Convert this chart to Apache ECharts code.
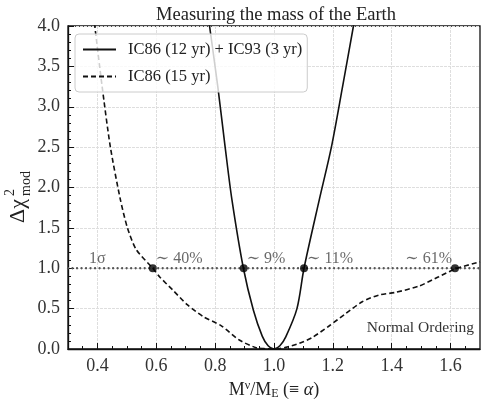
<!DOCTYPE html>
<html>
<head>
<meta charset="utf-8">
<script src="https://cdn.jsdelivr.net/npm/echarts@6/dist/echarts.min.js"></script>
<style>html,body{margin:0;padding:0;background:#fff;}#c{width:489px;height:400px;}</style>
</head>
<body>
<div id="c"></div>
<script>
// ---- data ----
const solidAlpha = [0.770, 0.781, 0.809, 0.834, 0.857, 0.896, 0.930, 0.960, 0.980, 1.000, 1.020, 1.040, 1.078, 1.102, 1.154, 1.195, 1.233, 1.270, 1.285];
const solidChi   = [4.30, 4.00, 3.25, 2.50, 1.85, 1.00, 0.48, 0.16, 0.04, 0.00, 0.04, 0.15, 0.50, 1.00, 1.85, 2.50, 3.25, 4.00, 4.30];
const dashAlpha = [0.380, 0.391, 0.416, 0.444, 0.478, 0.502, 0.532, 0.588, 0.611, 0.656, 0.705, 0.760, 0.820, 0.882, 0.939, 0.970, 1.000, 1.040, 1.086, 1.131, 1.187, 1.244, 1.300, 1.357, 1.414, 1.493, 1.560, 1.615, 1.700];
const dashChi   = [4.33, 4.00, 3.25, 2.50, 1.85, 1.50, 1.23, 1.00, 0.895, 0.73, 0.55, 0.40, 0.29, 0.111, 0.016, 0.003, 0.00, 0.02, 0.07, 0.145, 0.285, 0.44, 0.586, 0.669, 0.702, 0.78, 0.895, 0.99, 1.08];
const crossAlpha = [0.588, 0.897, 1.102, 1.615];
const crossChi = [1, 1, 1, 1];
const crossLabels = ['∼ 40%', '∼ 9%', '∼ 11%', '∼ 61%'];
const sigmaLevel = 1;
const sigmaLabel = '1σ';
const sigmaLabelAlpha = 0.4;
const xMajorTicks = [0.4, 0.6, 0.8, 1.0, 1.2, 1.4, 1.6];
const xMinorTicks = [0.35, 0.45, 0.5, 0.55, 0.65, 0.7, 0.75, 0.85, 0.9, 0.95, 1.05, 1.1, 1.15, 1.25, 1.3, 1.35, 1.45, 1.5, 1.55, 1.65];
const xRange = [0.3, 1.7];
const yRange = [0, 4];
const seriesNames = ['IC86 (12 yr) + IC93 (3 yr)', 'IC86 (15 yr)'];

const FF = '"Liberation Serif", "DejaVu Serif", serif';
const zip = (a, b) => a.map((v, i) => [v, b[i]]);

const chart = echarts.init(document.getElementById('c'));
chart.setOption({
  animation: false,
  backgroundColor: '#fff',
  title: {
    text: 'Measuring the mass of the Earth',
    left: 271, textAlign: 'center', top: 1,
    textStyle: { fontFamily: FF, fontSize: 18.5, fontWeight: 'normal', color: '#222' }
  },
  legend: {
    left: 75, top: 34, orient: 'vertical',
    padding: [7, 5, 7, 7],
    itemWidth: 33, itemHeight: 14, itemGap: 10,
    backgroundColor: 'rgba(255,255,255,0.8)',
    borderColor: '#ccc', borderWidth: 1, borderRadius: 4,
    data: seriesNames,
    itemStyle: { opacity: 0 },
    textStyle: { fontFamily: FF, fontSize: 16.5, color: '#222', padding: [0, 0, 0, 7], lineHeight: 14 }
  },
  grid: { left: 68, right: 9, top: 26, bottom: 51, outerBoundsMode: 'none', containLabel: false, show: true, borderColor: '#111', borderWidth: 1.3, backgroundColor: 'transparent' },
  xAxis: [{
    type: 'value', min: xRange[0], max: xRange[1],
    axisLine: { show: true, lineStyle: { color: '#111', width: 1.3 } },
    axisTick: { show: true, inside: true, length: 6, customValues: xMajorTicks, lineStyle: { color: '#111', width: 1 } },
    axisLabel: { customValues: xMajorTicks, margin: 8, fontFamily: FF, fontSize: 18, color: '#333', formatter: v => v.toFixed(1) },
    splitLine: { show: true, lineStyle: { color: '#dedede', width: 1, type: [3, 1] } },
    name: '{m|M}{sup|ν}{m|/M}{sub|E}{m| (≡ }{it|α}{m|)}',
    nameLocation: 'middle', nameGap: 25,
    nameTextStyle: {
      lineHeight: 20,
      rich: {
        m: { fontFamily: FF, fontSize: 18, color: '#222', lineHeight: 20, verticalAlign: 'middle' },
        it: { fontFamily: FF, fontSize: 18, color: '#222', fontStyle: 'italic', lineHeight: 20, verticalAlign: 'middle' },
        sup: { fontFamily: FF, fontSize: 12, color: '#222', lineHeight: 12, verticalAlign: 'top' },
        sub: { fontFamily: FF, fontSize: 12, color: '#222', lineHeight: 12, verticalAlign: 'bottom' }
      }
    }
  }, {
    type: 'value', min: xRange[0], max: xRange[1], position: 'bottom', gridIndex: 0, offset: 0,
    axisLine: { show: true, lineStyle: { color: 'rgba(0,0,0,0)' } },
    axisTick: { show: true, inside: true, length: 3, customValues: xMinorTicks, lineStyle: { color: '#111', width: 1 } },
    axisLabel: { show: false, customValues: xMinorTicks },
    splitLine: { show: false }
  }],
  yAxis: {
    type: 'value', min: yRange[0], max: yRange[1], interval: 0.5,
    axisLine: { show: true, lineStyle: { color: '#111', width: 1.3 } },
    axisTick: { show: true, inside: true, length: 6, lineStyle: { color: '#111', width: 1 } },
    minorTick: { show: true, splitNumber: 5, length: 3, lineStyle: { color: '#111', width: 1 } },
    axisLabel: { margin: 8, fontFamily: FF, fontSize: 18, color: '#333', formatter: v => v.toFixed(1) },
    splitLine: { show: true, lineStyle: { color: '#dedede', width: 1, type: [3, 1] } }
  },
  graphic: [
    {
      type: 'group', x: 18, y: 193, rotation: Math.PI / 2,
      children: [
        { type: 'text', x: -30, y: 0, style: { text: 'Δχ', fontFamily: FF, fontSize: 22, fill: '#222', align: 'left', verticalAlign: 'middle' } },
        { type: 'text', x: -3, y: -8, style: { text: '2', fontFamily: FF, fontSize: 14, fill: '#222', align: 'left', verticalAlign: 'middle' } },
        { type: 'text', x: -3, y: 8, style: { text: 'mod', fontFamily: FF, fontSize: 14, fill: '#222', align: 'left', verticalAlign: 'middle' } }
      ]
    },
    { type: 'text', x: 474, y: 328, style: { text: 'Normal Ordering', fontFamily: FF, fontSize: 15.5, fill: '#333', align: 'right', verticalAlign: 'middle' } }
  ],
  series: [
    {
      name: 'sigma', type: 'line', symbol: 'none', z: 1, silent: true, xAxisIndex: 1,
      data: [[xRange[0], sigmaLevel], [xRange[1], sigmaLevel]],
      lineStyle: { color: '#555', width: 2.3, type: [0.01, 4.5], cap: 'round' }
    },
    {
      name: seriesNames[0], type: 'line', symbol: 'none', smooth: 0.3, clip: true, z: 3,
      data: zip(solidAlpha, solidChi),
      lineStyle: { color: '#111', width: 1.6 }, itemStyle: { color: '#111' }
    },
    {
      name: seriesNames[1], type: 'line', symbol: 'none', smooth: 0.25, clip: true, z: 3,
      data: zip(dashAlpha, dashChi),
      lineStyle: { color: '#111', width: 1.6, type: [5, 3] }, itemStyle: { color: '#111' }
    },
    {
      name: 'cross', type: 'scatter', symbolSize: 8, z: 5,
      itemStyle: { color: '#000' },
      data: crossAlpha.map((a, i) => ({
        value: [a, crossChi[i]],
        label: {
          show: true, formatter: crossLabels[i],
          position: i === crossAlpha.length - 1 ? 'left' : 'right',
          distance: 0,
          offset: i === crossAlpha.length - 1 ? [1, -9] : [-1, -9],
          fontFamily: FF, fontSize: 16, color: '#444'
        }
      }))
    },
    {
      name: 'sigmaText', type: 'scatter', symbolSize: 0, z: 5,
      data: [[sigmaLabelAlpha, sigmaLevel]],
      label: { show: true, formatter: sigmaLabel, position: 'top', distance: 1, fontFamily: FF, fontSize: 16, color: '#444' }
    }
  ]
});
</script>
</body>
</html>
